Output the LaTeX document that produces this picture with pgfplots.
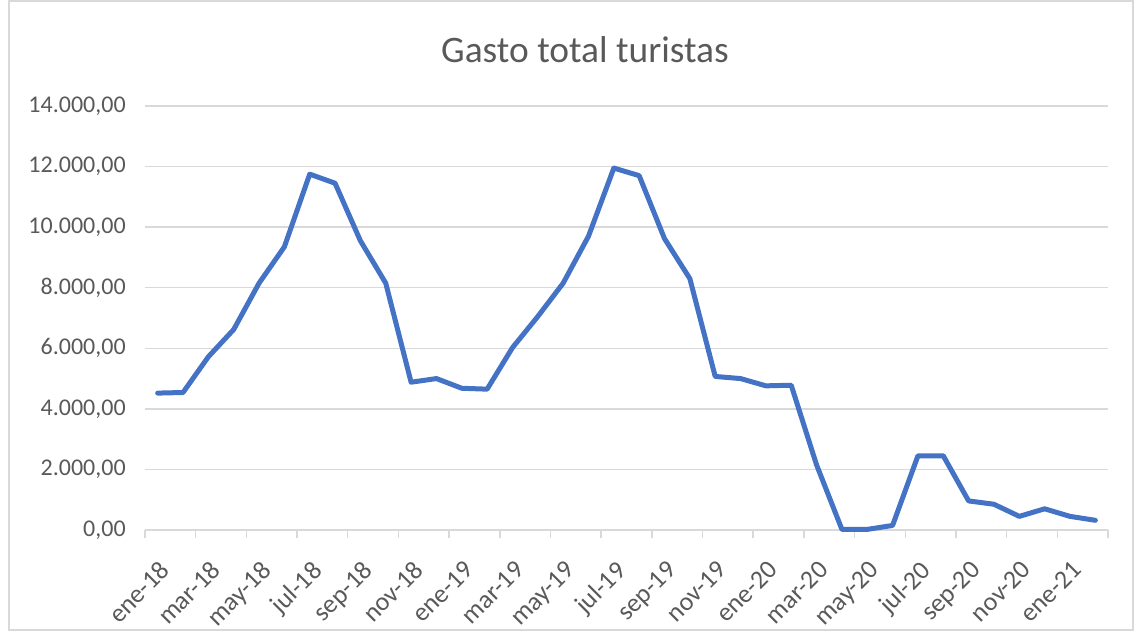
\documentclass[border=0pt]{standalone}
\usepackage{pgfplots}
\pgfplotsset{compat=1.18}
\usepackage{fontspec}
\setmainfont{Carlito}
\definecolor{excelblue}{RGB}{68,114,196}
\definecolor{gridgray}{RGB}{217,217,217}
\definecolor{textgray}{RGB}{89,89,89}
\begin{document}
\begin{tikzpicture}[x=1pt,y=1pt]
\useasboundingbox (0,0) rectangle (571,316);
\draw[gridgray, line width=0.75pt] (4.5,1) rectangle (566.5,315.5);
\node[textgray, font=\fontsize{18.7}{22}\selectfont] at (292.5,291) {Gasto total turistas};
\begin{axis}[
  at={(72.5pt,51pt)}, anchor=south west,
  scale only axis, width=481.5pt, height=212pt,
  xmin=-0.5, xmax=37.5, ymin=0, ymax=14000,
  clip=false,
  axis x line=bottom, axis y line=left,
  y axis line style={draw=none},
  x axis line style={gridgray, line width=0.75pt, -},
  ymajorgrids, grid style={gridgray, line width=0.75pt},
  ytick={0,2000,...,14000},
  ytick style={draw=none},
  scaled y ticks=false,
  yticklabel style={textgray, font=\fontsize{12}{14}\selectfont, xshift=-4pt},
  /pgf/number format/.cd, fixed, fixed zerofill, precision=2, 1000 sep={.}, use comma, assume math mode=true,
  /pgfplots/.cd,
  xtick={0,2,...,36},
  xticklabels={ene-18,mar-18,may-18,jul-18,sep-18,nov-18,ene-19,mar-19,may-19,jul-19,sep-19,nov-19,ene-20,mar-20,may-20,jul-20,sep-20,nov-20,ene-21},
  xtick style={draw=none},
  xticklabel style={textgray, font=\fontsize{13}{15}\selectfont, xshift=0.5pt, yshift=-7.7pt, rotate=45, anchor=north east},
  extra x ticks={-0.5,1.5,...,37.5},
  extra x tick labels={},
  extra x tick style={xtick style={draw=gridgray, line width=0.75pt}, major tick length=4pt, tick align=outside, grid=none},
]
\addplot[excelblue, line width=2.5pt, line join=round, line cap=round] coordinates {
(0,4520) (1,4540) (2,5720) (3,6620) (4,8150) (5,9350) (6,11750) (7,11450) (8,9550) (9,8150) (10,4880) (11,5000)
(12,4680) (13,4650) (14,6020) (15,7050) (16,8150) (17,9700) (18,11950) (19,11700) (20,9620) (21,8300) (22,5070) (23,5000)
(24,4760) (25,4780) (26,2150) (27,20) (28,20) (29,150) (30,2450) (31,2450) (32,960) (33,850) (34,450) (35,700)
(36,450) (37,320)
};
\end{axis}
\end{tikzpicture}
\end{document}
